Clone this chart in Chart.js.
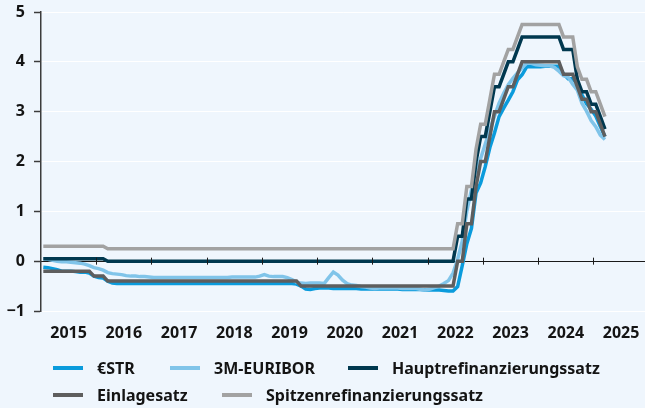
<!DOCTYPE html>
<html>
<head>
<meta charset="utf-8">
<script src="https://cdn.jsdelivr.net/npm/chart.js@4.4.1/dist/chart.umd.min.js"></script>
<style>
html,body{margin:0;padding:0;background:#eff6fd;}
#wrap{position:relative;width:645px;height:408px;overflow:hidden;background:#eff6fd;}
#c{position:absolute;left:0;top:0;}
.leg{position:absolute;height:22px;display:flex;align-items:center;white-space:nowrap;
  font-family:"Noto Sans",sans-serif;font-weight:700;font-size:16px;color:#141414;}
.leg .s{display:inline-block;width:30px;height:4px;margin-right:14px;}
</style>
</head>
<body>
<div id="wrap">
  <canvas id="c" width="645" height="408"></canvas>
  <div id="legend"></div>
</div>
<script>
// ---- categories: monthly observations Jan 2015 .. Mar 2025 ----
const months = [];
for (let yr = 2015; yr <= 2025; yr++) {
  for (let m = 1; m <= 12; m++) {
    if (yr === 2025 && m > 3) break;
    months.push(yr + '-' + String(m).padStart(2, '0'));
  }
}
const yearLabels = ['2015','2016','2017','2018','2019','2020','2021','2022','2023','2024','2025'];
const yTickLabels = ['\u22121','0','1','2','3','4','5'];

// ---- series values (% p.a.) ----
const estr = [
  -0.12,-0.13,-0.15,-0.17,-0.20,-0.20,-0.20,-0.21,-0.22,-0.22,-0.24,-0.30,
  -0.33,-0.34,-0.40,-0.44,-0.45,-0.45,-0.45,-0.45,-0.45,-0.45,-0.45,-0.45,
  -0.45,-0.45,-0.45,-0.45,-0.45,-0.45,-0.45,-0.45,-0.45,-0.45,-0.45,-0.45,
  -0.45,-0.45,-0.45,-0.45,-0.45,-0.45,-0.45,-0.45,-0.45,-0.45,-0.45,-0.45,
  -0.45,-0.45,-0.45,-0.45,-0.45,-0.45,-0.45,-0.46,-0.50,-0.56,-0.57,-0.55,
  -0.54,-0.54,-0.54,-0.55,-0.55,-0.55,-0.55,-0.55,-0.55,-0.56,-0.56,-0.56,
  -0.56,-0.56,-0.56,-0.56,-0.56,-0.56,-0.57,-0.57,-0.57,-0.57,-0.57,-0.58,
  -0.58,-0.58,-0.58,-0.59,-0.60,-0.60,-0.51,-0.09,0.35,0.66,1.37,1.57,
  1.90,2.28,2.57,2.90,3.07,3.23,3.40,3.64,3.74,3.90,3.90,3.90,
  3.90,3.91,3.91,3.91,3.91,3.76,3.66,3.66,3.56,3.34,3.16,3.05,
  2.91,2.70,2.50
];
const euribor = [
  0.05,0.04,0.02,0.00,-0.01,-0.01,-0.02,-0.03,-0.04,-0.06,-0.09,-0.13,
  -0.15,-0.18,-0.23,-0.25,-0.26,-0.27,-0.29,-0.30,-0.30,-0.31,-0.31,-0.32,
  -0.33,-0.33,-0.33,-0.33,-0.33,-0.33,-0.33,-0.33,-0.33,-0.33,-0.33,-0.33,
  -0.33,-0.33,-0.33,-0.33,-0.33,-0.32,-0.32,-0.32,-0.32,-0.32,-0.32,-0.30,
  -0.27,-0.30,-0.31,-0.31,-0.31,-0.33,-0.37,-0.42,-0.44,-0.45,-0.44,-0.44,
  -0.44,-0.45,-0.33,-0.22,-0.28,-0.38,-0.45,-0.48,-0.49,-0.51,-0.52,-0.54,
  -0.55,-0.54,-0.54,-0.54,-0.54,-0.54,-0.55,-0.55,-0.55,-0.55,-0.57,-0.58,
  -0.56,-0.53,-0.50,-0.45,-0.39,-0.24,0.04,0.40,1.01,1.43,1.83,2.06,
  2.35,2.64,2.91,3.17,3.37,3.54,3.67,3.78,3.88,3.97,3.97,3.94,
  3.93,3.92,3.92,3.89,3.81,3.72,3.69,3.55,3.43,3.17,3.01,2.82,
  2.70,2.53,2.44
];
const mro = [
  0.05,0.05,0.05,0.05,0.05,0.05,0.05,0.05,0.05,0.05,0.05,0.05,
  0.05,0.05,0,0,0,0,0,0,0,0,0,0,
  0,0,0,0,0,0,0,0,0,0,0,0,
  0,0,0,0,0,0,0,0,0,0,0,0,
  0,0,0,0,0,0,0,0,0,0,0,0,
  0,0,0,0,0,0,0,0,0,0,0,0,
  0,0,0,0,0,0,0,0,0,0,0,0,
  0,0,0,0,0,0,0.50,0.50,1.25,1.25,2.00,2.50,
  2.50,3.00,3.50,3.50,3.75,4.00,4.00,4.25,4.50,4.50,4.50,4.50,
  4.50,4.50,4.50,4.50,4.50,4.25,4.25,4.25,3.65,3.40,3.40,3.15,
  3.15,2.90,2.65
];
const deposit = [
  -0.20,-0.20,-0.20,-0.20,-0.20,-0.20,-0.20,-0.20,-0.20,-0.20,-0.20,-0.30,
  -0.30,-0.30,-0.40,-0.40,-0.40,-0.40,-0.40,-0.40,-0.40,-0.40,-0.40,-0.40,
  -0.40,-0.40,-0.40,-0.40,-0.40,-0.40,-0.40,-0.40,-0.40,-0.40,-0.40,-0.40,
  -0.40,-0.40,-0.40,-0.40,-0.40,-0.40,-0.40,-0.40,-0.40,-0.40,-0.40,-0.40,
  -0.40,-0.40,-0.40,-0.40,-0.40,-0.40,-0.40,-0.40,-0.50,-0.50,-0.50,-0.50,
  -0.50,-0.50,-0.50,-0.50,-0.50,-0.50,-0.50,-0.50,-0.50,-0.50,-0.50,-0.50,
  -0.50,-0.50,-0.50,-0.50,-0.50,-0.50,-0.50,-0.50,-0.50,-0.50,-0.50,-0.50,
  -0.50,-0.50,-0.50,-0.50,-0.50,-0.50,0,0,0.75,0.75,1.50,2.00,
  2.00,2.50,3.00,3.00,3.25,3.50,3.50,3.75,4.00,4.00,4.00,4.00,
  4.00,4.00,4.00,4.00,4.00,3.75,3.75,3.75,3.50,3.25,3.25,3.00,
  3.00,2.75,2.50
];
const marginal = [
  0.30,0.30,0.30,0.30,0.30,0.30,0.30,0.30,0.30,0.30,0.30,0.30,
  0.30,0.30,0.25,0.25,0.25,0.25,0.25,0.25,0.25,0.25,0.25,0.25,
  0.25,0.25,0.25,0.25,0.25,0.25,0.25,0.25,0.25,0.25,0.25,0.25,
  0.25,0.25,0.25,0.25,0.25,0.25,0.25,0.25,0.25,0.25,0.25,0.25,
  0.25,0.25,0.25,0.25,0.25,0.25,0.25,0.25,0.25,0.25,0.25,0.25,
  0.25,0.25,0.25,0.25,0.25,0.25,0.25,0.25,0.25,0.25,0.25,0.25,
  0.25,0.25,0.25,0.25,0.25,0.25,0.25,0.25,0.25,0.25,0.25,0.25,
  0.25,0.25,0.25,0.25,0.25,0.25,0.75,0.75,1.50,1.50,2.25,2.75,
  2.75,3.25,3.75,3.75,4.00,4.25,4.25,4.50,4.75,4.75,4.75,4.75,
  4.75,4.75,4.75,4.75,4.75,4.50,4.50,4.50,3.90,3.65,3.65,3.40,
  3.40,3.15,2.90
];

const seriesNames = ['\u20acSTR','3M-EURIBOR','Hauptrefinanzierungssatz','Einlagesatz','Spitzenrefinanzierungssatz'];
const seriesColors = ['#0a9bdc','#80c4e9','#00384f','#5e5e5e','#a2a2a2'];
const seriesValues = [estr, euribor, mro, deposit, marginal];

// month -> position on a continuous year axis (middle of month)
const monthPos = months.map(s => {
  const [yy, mm] = s.split('-').map(Number);
  return yy + (mm - 0.5) / 12;
});

const X_MIN = 2015, X_MAX = 2025.933;

const datasets = seriesValues.map((vals, k) => ({
  label: seriesNames[k],
  data: vals.map((v, i) => ({ x: monthPos[i], y: v })),
  borderColor: seriesColors[k],
  backgroundColor: seriesColors[k],
  borderWidth: 3.5,
  pointRadius: 0,
  tension: 0,
  fill: false,
  order: seriesValues.length - k
}));

const tickFont = { family: 'Noto Sans', size: 16, weight: 'bold' };
const noPad = s => { s.paddingLeft = 0; s.paddingRight = 0; s.paddingTop = 0; s.paddingBottom = 0; };

const xTickMarks = {
  id: 'xTickMarks',
  afterDatasetsDraw(chart) {
    const { ctx, scales } = chart;
    const x = scales.x, y = scales.y;
    const y0 = y.getPixelForValue(0);
    ctx.save();
    ctx.strokeStyle = '#1a1a1a';
    ctx.lineWidth = 1;
    yearLabels.forEach(l => {
      const v = Number(l);
      if (v <= X_MIN) return;
      const px = Math.round(x.getPixelForValue(v)) + 0.5;
      ctx.beginPath();
      ctx.moveTo(px, y0 - 3.5);
      ctx.lineTo(px, y0 + 3.5);
      ctx.stroke();
    });
    ctx.restore();
  }
};

new Chart(document.getElementById('c'), {
  type: 'line',
  data: { datasets },
  options: {
    responsive: false,
    animation: false,
    devicePixelRatio: 1,
    layout: { padding: { left: 0, right: 0, top: 12, bottom: 0 } },
    plugins: { legend: { display: false }, tooltip: { enabled: false } },
    scales: {
      x: {
        type: 'linear',
        min: X_MIN, max: X_MAX,
        position: { y: 0 },
        afterFit: noPad,
        ticks: { display: false, stepSize: 1 },
        grid: { display: true, drawOnChartArea: false, drawTicks: false },
        border: { display: true, color: '#1a1a1a', width: 1 }
      },
      xl: {
        type: 'linear',
        axis: 'x',
        min: X_MIN, max: X_MAX,
        position: 'bottom',
        afterBuildTicks(s) { s.ticks = yearLabels.map(l => ({ value: Number(l) + 0.5 })); },
        afterFit(s) { s.height = 97; noPad(s); },
        ticks: {
          color: '#141414', font: tickFont, padding: 13, maxRotation: 0, autoSkip: false,
          callback: (v, i) => yearLabels[i]
        },
        grid: { display: false, drawTicks: false },
        border: { display: false }
      },
      y: {
        type: 'linear',
        min: -1, max: 5,
        position: 'left',
        afterFit(s) { s.width = 41; noPad(s); },
        afterBuildTicks(s) { s.ticks = yTickLabels.map((l, i) => ({ value: i - 1 })); },
        ticks: {
          color: '#141414', font: tickFont, padding: 9,
          callback: (v, i) => yTickLabels[i]
        },
        grid: { color: '#ffffff', lineWidth: 1, drawTicks: true, tickLength: 7, tickColor: '#3c3c3c', tickWidth: 1.5 },
        border: { display: true, color: '#3c3c3c', width: 1.5 }
      }
    }
  },
  plugins: [xTickMarks]
});

// ---- legend (HTML text) ----
const legendPos = [[53, 357], [170, 357], [348, 357], [53, 384], [222, 384]];
const legendEl = document.getElementById('legend');
seriesNames.forEach((name, k) => {
  const d = document.createElement('div');
  d.className = 'leg';
  d.style.left = legendPos[k][0] + 'px';
  d.style.top = legendPos[k][1] + 'px';
  const s = document.createElement('span');
  s.className = 's';
  s.style.background = seriesColors[k];
  d.appendChild(s);
  d.appendChild(document.createTextNode(name));
  legendEl.appendChild(d);
});
</script>
</body>
</html>
